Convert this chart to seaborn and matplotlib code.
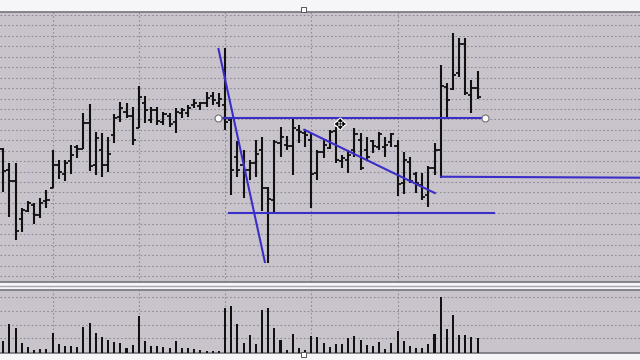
import numpy as np
import pandas as pd
import matplotlib
matplotlib.use("Agg")
import matplotlib.pyplot as plt
import matplotlib.patheffects as pe
from matplotlib.patches import Rectangle
import seaborn as sns

# ---------------- data (price units, arbitrary scale) ----------------
highs = [152, 137, 137, 92, 99, 97, 102, 110, 150, 140, 140, 155, 155, 187, 196, 168, 167, 163, 186, 198,
         197, 193, 214, 204, 193, 193, 188, 187, 192, 192, 195, 201, 198, 208, 208, 207, 252, 183, 159, 150,
         140, 160, 163, 113, 160, 173, 164, 183, 175, 171, 167, 150, 161, 170, 173, 145, 150, 172, 167, 163,
         160, 168, 163, 167, 160, 148, 143, 128, 127, 134, 157, 235, 217, 267, 262, 262, 220, 229]
lows = [108, 83, 60, 68, 88, 76, 82, 92, 112, 121, 119, 126, 142, 151, 129, 125, 123, 128, 157, 178,
        182, 155, 172, 177, 177, 175, 175, 173, 167, 182, 183, 192, 190, 193, 195, 193, 170, 105, 123, 102,
        120, 123, 89, 37, 87, 143, 150, 125, 157, 153, 92, 120, 142, 151, 137, 132, 127, 143, 130, 140,
        147, 150, 143, 153, 104, 106, 117, 107, 100, 93, 125, 122, 181, 210, 223, 205, 187, 201]
opens = [151, 130, 119, 81, 89, 95, 85, 99, 112, 135, 126, 139, 153, 151, 177, 135, 150, 135, 165, 183,
         188, 184, 172, 197, 180, 190, 178, 184, 178, 187, 187, 195, 194, 197, 204, 197, 195, 180, 143, 135,
         130, 137, 150, 112, 100, 157, 155, 154, 170, 167, 160, 127, 148, 152, 169, 139, 140, 150, 160, 150,
         159, 153, 153, 158, 154, 117, 138, 126, 115, 105, 132, 150, 213, 211, 227, 256, 205, 212]
closes = [129, 119, 69, 90, 97, 85, 97, 100, 135, 128, 137, 145, 151, 177, 134, 162, 135, 146, 182, 192,
          184, 160, 203, 190, 190, 179, 186, 176, 188, 190, 192, 197, 197, 202, 200, 201, 178, 130, 130, 130,
          137, 146, 112, 101, 158, 163, 154, 172, 168, 165, 126, 148, 155, 168, 140, 142, 145, 166, 132, 143,
          154, 166, 155, 166, 116, 140, 119, 117, 103, 132, 150, 214, 200, 225, 256, 207, 212, 203]
volumes = [36, 86, 75, 29, 19, 10, 13, 13, 61, 26, 20, 21, 18, 77, 90, 61, 47, 38, 33, 31,
           15, 23, 109, 36, 20, 22, 18, 16, 37, 14, 16, 12, 8, 7, 5, 5, 134, 140, 86, 29,
           55, 27, 129, 133, 75, 38, 10, 57, 14, 8, 51, 48, 30, 19, 26, 27, 45, 50, 38, 24,
           20, 32, 13, 30, 67, 36, 21, 16, 15, 26, 57, 168, 73, 112, 54, 53, 48, 46]

# trend lines drawn on the chart: (x0, y0, x1, y1) in bar-index / price units
trend_steep = (34.9, 252, 42.5, 37)
trend_resist = (34.9, 182.5, 78.2, 182.5)
trend_down = (48.7, 170.7, 70.2, 106.5)
trend_support = (36.5, 86.7, 79.8, 86.7)
trend_right = (70.9, 123.3, 104.0, 122.3)

n = len(highs)
idx = np.arange(n)
df = pd.DataFrame({"i": idx, "high": highs, "low": lows, "open": opens,
                   "close": closes, "volume": volumes})

# ---------------- style ----------------
BG = "#c9c4cc"
GRID = "#8f8b96"
BAR = "#111111"
TL = "#3a2ec8"

sns.set_theme(style="white")
plt.rcParams["font.family"] = ["DejaVu Sans"]

fig = plt.figure(figsize=(6.4, 3.6), dpi=100, facecolor="#f6f6f8")
ax = fig.add_axes([0, 1 - 282 / 360, 1, 270 / 360])
axv = fig.add_axes([0, 1 - 353 / 360, 1, 63 / 360])

xlim = (-0.536, 103.36)
for a in (ax, axv):
    a.set_facecolor(BG)
    a.tick_params(labelbottom=False, labelleft=False, length=0)
    for s in ("left", "right"):
        a.spines[s].set_visible(False)
    for s in ("top", "bottom"):
        a.spines[s].set_color("#76747c")
        a.spines[s].set_linewidth(1.2)

# grid
vgrid = [8, 22, 36, 50, 64]
for a in (ax, axv):
    for g in vgrid:
        a.axvline(g, color=GRID, lw=0.8, ls=(0, (1.5, 2)), zorder=0)
for g in np.linspace(24, 285, 26):
    ax.axhline(g, color=GRID, lw=0.8, ls=(0, (1.5, 2)), zorder=0)
for g in [44, 85, 126, 167]:
    axv.axhline(g, color=GRID, lw=0.8, ls=(0, (1.5, 2)), zorder=0)

# OHLC bars
ax.vlines(df["i"], df["low"], df["high"], color=BAR, lw=1.5, zorder=3)
tk = 0.5
ax.hlines(df["open"], df["i"] - tk, df["i"], color=BAR, lw=1.3, zorder=3)
ax.hlines(df["close"], df["i"], df["i"] + tk, color=BAR, lw=1.3, zorder=3)

# trend lines
for (x0, y0, x1, y1) in (trend_steep, trend_resist, trend_down, trend_support, trend_right):
    ax.plot([x0, x1], [y0, y1], color=TL, lw=1.5, zorder=4, solid_capstyle="butt")
ax.plot([trend_resist[0], trend_resist[2]], [trend_resist[1], trend_resist[3]], ls="none",
        marker="o", ms=5, mfc="white", mec="#707070", mew=0.8, zorder=5)

# move cursor
ax.text(54.7, 175, "\u2725", fontsize=10, color="black", ha="center", va="center", zorder=6,
        path_effects=[pe.withStroke(linewidth=1.5, foreground="white")])

ax.set_xlim(*xlim)
ax.set_ylim(18, 288)
ax.set_xlabel("")
ax.set_ylabel("")

# volume with seaborn
sns.barplot(data=df, x="i", y="volume", native_scale=True, width=0.33, color=BAR,
            saturation=1, ax=axv, zorder=3, linewidth=0)
axv.set_xlim(*xlim)
axv.set_ylim(0, 188)
axv.set_xlabel("")
axv.set_ylabel("")
axv.tick_params(labelbottom=False, labelleft=False, length=0)

# separator line between panes
fig.add_artist(plt.Line2D([0, 1], [1 - 286 / 360] * 2, color="#a8a6ae", lw=1.0))

# little resize handles
for yy in (9, 354):
    fig.add_artist(Rectangle((301 / 640, 1 - (yy + 2.5) / 360), 5 / 640, 5 / 360,
                             facecolor="white", edgecolor="#555555", lw=0.7,
                             transform=fig.transFigure, zorder=10))

fig.savefig("out.png", dpi=100, facecolor=fig.get_facecolor())
